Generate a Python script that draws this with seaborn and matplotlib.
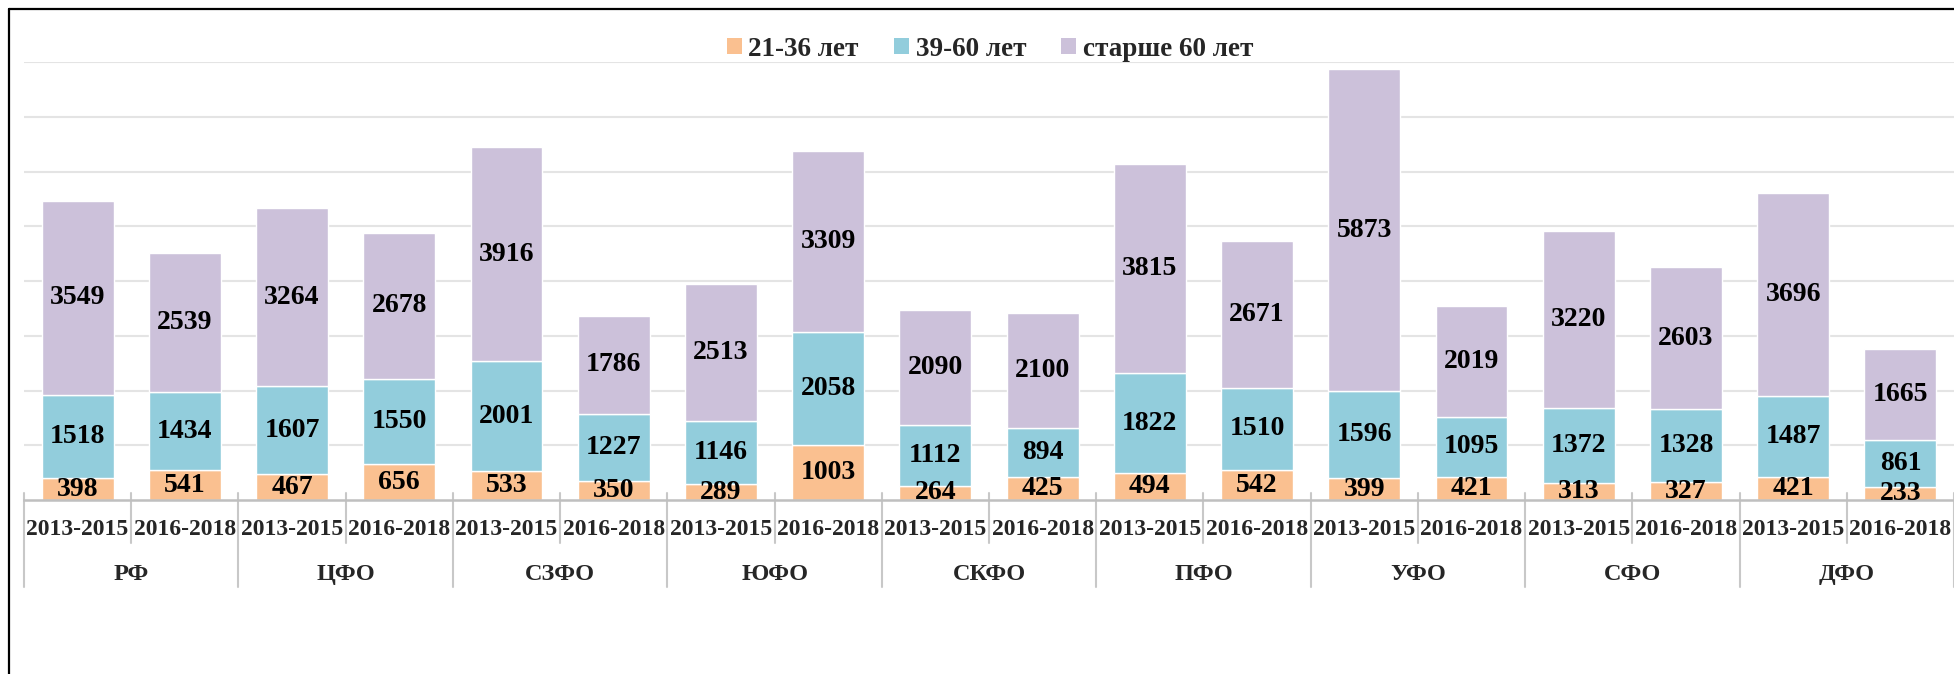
import numpy as np
import pandas as pd
import seaborn as sns
import matplotlib
matplotlib.use("Agg")
import matplotlib.pyplot as plt
import matplotlib.transforms as mtransforms
from matplotlib.patches import Patch
from matplotlib.lines import Line2D

# Data
regions = ['РФ', 'ЦФО', 'СЗФО', 'ЮФО', 'СКФО', 'ПФО', 'УФО', 'СФО', 'ДФО']
periods = ['2013-2015', '2016-2018']
age_groups = ['21-36 лет', '39-60 лет', 'старше 60 лет']
young = [398, 541, 467, 656, 533, 350, 289, 1003, 264, 425, 494, 542, 399, 421, 313, 327, 421, 233]
middle = [1518, 1434, 1607, 1550, 2001, 1227, 1146, 2058, 1112, 894, 1822, 1510, 1596, 1095, 1372, 1328, 1487, 861]
old = [3549, 2539, 3264, 2678, 3916, 1786, 2513, 3309, 2090, 2100, 3815, 2671, 5873, 2019, 3220, 2603, 3696, 1665]

colours = ['#FAC090', '#92CDDC', '#CCC1DA']

keys = [r + '|' + p for r in regions for p in periods]
df = pd.DataFrame({'key': keys, 'young': young, 'middle': middle, 'old': old})

sns.set_theme(style='white')
plt.rcParams['font.family'] = ['Liberation Serif', 'DejaVu Serif']
plt.rcParams['font.weight'] = 'bold'

fig = plt.figure(figsize=(19.54, 6.74), dpi=100)
ax = fig.add_axes([24 / 1954, 1 - 500 / 674, 1 - 24 / 1954, 438 / 674])

# stacked bars, each layer sits on the sum of the ones below it
bottom = np.zeros(len(keys))
for col, c in zip(['young', 'middle', 'old'], colours):
    sns.barplot(data=df, x='key', y=col, order=keys, color=c, width=0.67,
                bottom=bottom, errorbar=None, saturation=1, ax=ax,
                edgecolor='white', linewidth=1, zorder=2)
    bottom = bottom + df[col].values

for cont in ax.containers:
    ax.bar_label(cont, label_type='center', fmt='%d', fontsize=20,
                 fontweight='bold', color='black')

ax.set_xlim(-0.5, len(keys) - 0.5)
ax.set_ylim(0, 8000)
ax.set_yticks(np.arange(1000, 8001, 1000))
ax.set_yticklabels([])
ax.tick_params(axis='y', length=0)
ax.grid(axis='y', color='#E4E4E4', linewidth=1.5, zorder=0)
ax.set_axisbelow(True)
for s in ['top', 'right', 'left']:
    ax.spines[s].set_visible(False)
ax.spines['bottom'].set_color('#BFBFBF')
ax.spines['bottom'].set_linewidth(1.8)
ax.set_xlabel('')
ax.set_ylabel('')

ax.set_xticks(range(len(keys)))
ax.set_xticklabels([k.split('|')[1] for k in keys], fontsize=17, fontweight='bold')
ax.tick_params(axis='x', length=0, pad=14)

# separators and region names under the axis
trans = mtransforms.blended_transform_factory(ax.transData, ax.transAxes)
for i in range(len(keys) + 1):
    x = i - 0.5
    y_end = -0.199 if i % 2 == 0 else -0.098
    ax.plot([x, x], [0.016, y_end], transform=trans, color='#C8C8C8',
            linewidth=1.5, clip_on=False, zorder=1)
for g, r in enumerate(regions):
    ax.text(2 * g + 0.5, -0.17, r, transform=trans, ha='center', va='center',
            fontsize=17.5, fontweight='bold')

# legend
handles = [Patch(facecolor=c, edgecolor='none') for c in colours]
fig.legend(handles, age_groups, loc='center', bbox_to_anchor=(990 / 1954, 1 - 49 / 674),
           ncol=3, frameon=False, prop={'size': 19.5, 'weight': 'bold'},
           handlelength=0.55, handleheight=0.55, handletextpad=0.25, columnspacing=1.3)

# chart frame (only top and left edges visible)
fig.add_artist(Line2D([9 / 1954, 1], [1 - 9 / 674, 1 - 9 / 674], color='black', linewidth=1.6))
fig.add_artist(Line2D([9 / 1954, 9 / 1954], [0, 1 - 9 / 674], color='black', linewidth=1.6))

fig.savefig('out.png', dpi=100)
